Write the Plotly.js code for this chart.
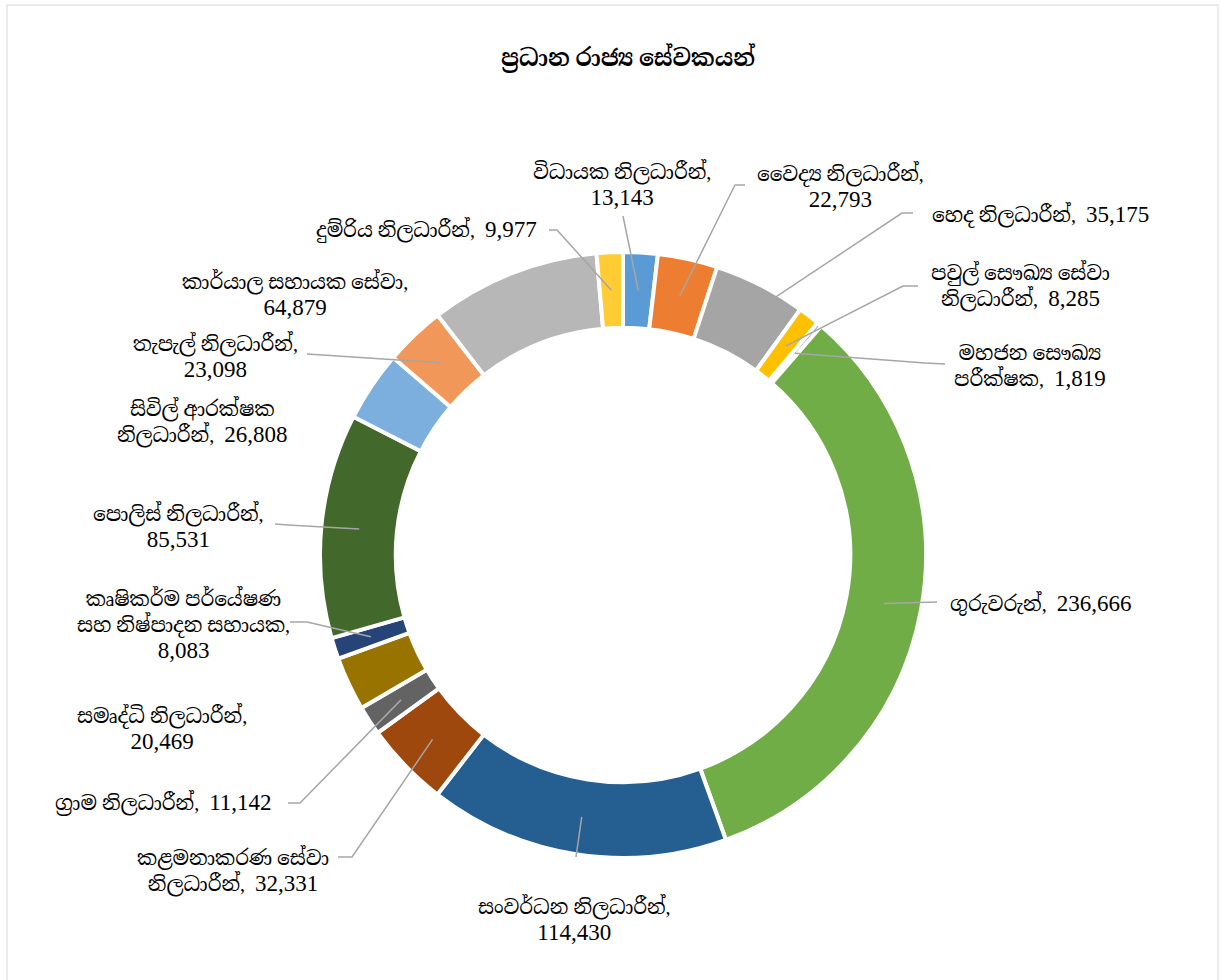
<!DOCTYPE html>
<html>
<head>
<meta charset="utf-8">
<script src="https://cdn.plot.ly/plotly-3.0.1.min.js"></script>
<style>html,body{margin:0;padding:0;background:#fff}</style>
</head>
<body>
<div id="chart" style="width:1221px;height:980px"></div>
<script>
// ---------------- DATA ----------------
const chartTitle = "ප්\u200Dරධාන රාජ්\u200Dය සේවකයන්";
const categories = [
  "විධායක නිලධාරීන්",
  "වෛද්\u200Dය නිලධාරීන්",
  "හෙද නිලධාරීන්",
  "පවුල් සෞඛ්\u200Dය සේවා නිලධාරීන්",
  "මහජන සෞඛ්\u200Dය පරීක්ෂක",
  "ගුරුවරුන්",
  "සංවර්ධන නිලධාරීන්",
  "කළමනාකරණ සේවා නිලධාරීන්",
  "ග්\u200Dරාම නිලධාරීන්",
  "සමෘද්ධි නිලධාරීන්",
  "කෘෂිකර්ම පර්යේෂණ සහ නිෂ්පාදන සහායක",
  "පොලිස් නිලධාරීන්",
  "සිවිල් ආරක්ෂක නිලධාරීන්",
  "තැපැල් නිලධාරීන්",
  "කාර්යාල සහායක සේවා",
  "දුම්රිය නිලධාරීන්"
];
const values = [13143, 22793, 35175, 8285, 1819, 236666, 114430, 32331, 11142, 20469, 8083, 85531, 26808, 23098, 64879, 9977];

// ---------------- STYLE / LAYOUT ----------------
const sliceColors = ["#5B9BD5","#ED7D31","#A5A5A5","#FFC000","#4472C4","#70AD47","#255E91","#9E480E",
                     "#636363","#997300","#264478","#43682B","#7CAFDD","#F1975A","#B7B7B7","#FFCD33"];
const W = 1221, H = 980;
const CX = 623, CY = 555, R = 303, HOLE = 0.75;   // pie geometry in pixels
const FONT = "'Liberation Serif', 'Noto Serif Sinhala', 'Noto Sans Sinhala', 'Iskoola Pota', 'Times New Roman', serif";
const LABEL_SIZE = 20, VALUE_SIZE = 23;
// label block centre (px), words per line, leader start/elbow (px)
const labelLayout = [
  {x:622,  y:184, lines:[2,1],   leader:[[623,216]]},
  {x:840,  y:186, lines:[2,1],   leader:[[745,185],[735,185]]},
  {x:1040, y:215, lines:[3],     leader:[[913,213],[902,213]]},
  {x:1020, y:286, lines:[3,2],   leader:[[918,286],[903,286]]},
  {x:1030, y:366, lines:[2,2],   leader:[[945,364],[925,363]]},
  {x:1040, y:603, lines:[2],     leader:[[937,602]]},
  {x:574,  y:919, lines:[2,1],   leader:[[576,857]]},
  {x:233,  y:871, lines:[2,2],   leader:[[338,857],[352,857]]},
  {x:163,  y:803, lines:[3],     leader:[[288,803],[300,803]]},
  {x:162,  y:728, lines:[2,1],   leader:null},
  {x:183,  y:624, lines:[2,3,1], leader:[[290,622],[307,622]]},
  {x:178,  y:526, lines:[2,1],   leader:[[275,524],[288,525]]},
  {x:203,  y:422, lines:[2,2],   leader:null},
  {x:215,  y:356, lines:[2,1],   leader:[[307,354]]},
  {x:295,  y:294, lines:[3,1],   leader:null},
  {x:426,  y:230, lines:[3],     leader:[[549,230],[557,230]]}
];

const px = x => x / W;
const py = y => 1 - y / H;

function labelText(i) {
  const words = categories[i].split(" ");
  words[words.length - 1] += ",";
  const valStr = '<span style="font-size:' + VALUE_SIZE + 'px">' + values[i].toLocaleString("en-US") + '</span>';
  const tokens = words.concat([valStr]);
  const out = [];
  let k = 0;
  labelLayout[i].lines.forEach(n => {
    let line = "";
    for (let j = 0; j < n; j++) {
      const t = tokens[k++];
      if (j > 0) line += (k - 1 === tokens.length - 1) ? "\u00a0 " : " ";
      line += t;
    }
    out.push(line);
  });
  return out.join("<br>");
}

const total = values.reduce((a, b) => a + b, 0);
const annotations = [];
const shapes = [];
let cum = 0;
const rMid = R * (1 + HOLE) / 2;
values.forEach((v, i) => {
  const mid = (cum + v / 2) / total * 2 * Math.PI;
  cum += v;
  const ex = CX + rMid * Math.sin(mid);
  const ey = CY - rMid * Math.cos(mid);
  const L = labelLayout[i];
  annotations.push({
    xref: "paper", yref: "paper", x: px(L.x), y: py(L.y),
    xanchor: "center", yanchor: "middle", align: "center",
    showarrow: false, text: labelText(i),
    font: {family: FONT, size: LABEL_SIZE, color: "#000000"}
  });
  if (L.leader) {
    const pts = L.leader.concat([[ex, ey]]);
    const path = pts.map((p, j) => (j ? "L" : "M") + px(p[0]).toFixed(5) + "," + py(p[1]).toFixed(5)).join(" ");
    shapes.push({type: "path", xref: "paper", yref: "paper", path: path,
                 line: {color: "#A6A6A6", width: 1.5}});
  }
});
shapes.push({type: "rect", xref: "paper", yref: "paper", x0: px(7), x1: px(1218), y0: -0.02, y1: py(5),
             line: {color: "#D9D9D9", width: 1}, fillcolor: "rgba(0,0,0,0)", layer: "below"});

const trace = {
  type: "pie",
  labels: categories,
  values: values,
  hole: HOLE,
  sort: false,
  direction: "clockwise",
  rotation: 0,
  textinfo: "none",
  hoverinfo: "label+value",
  showlegend: false,
  marker: {colors: sliceColors, line: {color: "#FFFFFF", width: 4}},
  domain: {x: [px(CX - R), px(CX + R)], y: [py(CY + R), py(CY - R)]}
};

const layout = {
  width: W, height: H,
  margin: {l: 0, r: 0, t: 0, b: 0},
  paper_bgcolor: "#FFFFFF",
  showlegend: false,
  title: {text: "<b>" + chartTitle + "</b>", x: px(628), xanchor: "center", xref: "paper",
          y: py(58), yanchor: "middle", yref: "container",
          font: {family: FONT, size: 23, color: "#000000"}},
  annotations: annotations,
  shapes: shapes
};

Plotly.newPlot("chart", [trace], layout, {displayModeBar: false});
</script>
</body>
</html>
